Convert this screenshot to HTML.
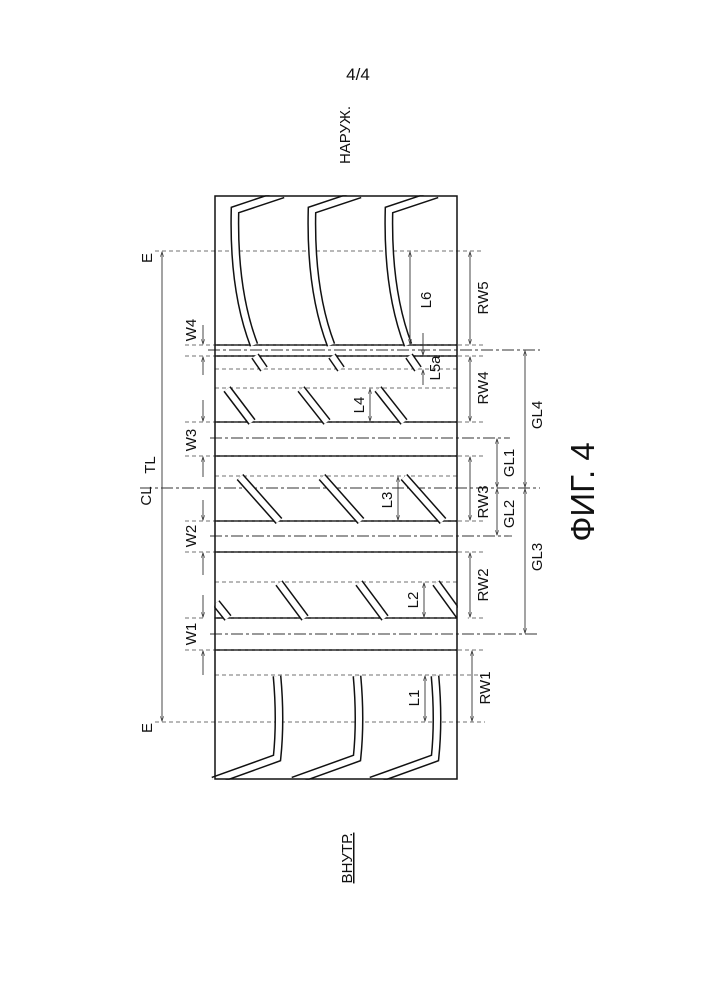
<!DOCTYPE html>
<html><head><meta charset="utf-8"><style>
html,body{margin:0;padding:0;background:#fff}
svg{display:block}
text{font-family:"Liberation Sans",sans-serif;fill:#111}
</style></head><body>
<svg width="707" height="1000" viewBox="0 0 707 1000" xmlns="http://www.w3.org/2000/svg">
<defs>
<marker id="a" viewBox="0 0 10 10" refX="9" refY="5" markerWidth="6" markerHeight="6" orient="auto-start-reverse"><path d="M0,2 L10,5 L0,8" fill="none" stroke="#333" stroke-width="1"/></marker>
</defs>
<text x="358" y="80" font-size="17" text-anchor="middle">4/4</text>
<text transform="translate(350,135) rotate(-90)" font-size="15" text-anchor="middle">НАРУЖ.</text>
<text transform="translate(352,858) rotate(-90)" font-size="15" text-anchor="middle" text-decoration="underline">ВНУТР.</text>
<text transform="translate(594,492) rotate(-90)" font-size="33" text-anchor="middle">ФИГ. 4</text>

<!-- solid groove walls -->
<g stroke="#111" stroke-width="1.5">
<line x1="215" y1="345" x2="457" y2="345"/><line x1="215" y1="356" x2="457" y2="356"/>
<line x1="215" y1="422" x2="457" y2="422"/><line x1="215" y1="456" x2="457" y2="456"/>
<line x1="215" y1="521" x2="457" y2="521"/><line x1="215" y1="552" x2="457" y2="552"/>
<line x1="215" y1="618" x2="457" y2="618"/><line x1="215" y1="650" x2="457" y2="650"/>
</g>
<!-- dashed lines -->
<g stroke="#444" stroke-width="0.8" stroke-dasharray="4,3" fill="none">
<line x1="155" y1="251" x2="482" y2="251"/>
<line x1="155" y1="722" x2="485" y2="722"/>
<line x1="185" y1="345" x2="485" y2="345"/><line x1="185" y1="356" x2="485" y2="356"/>
<line x1="215" y1="369" x2="457" y2="369"/><line x1="215" y1="388" x2="457" y2="388"/>
<line x1="185" y1="422" x2="485" y2="422"/><line x1="185" y1="456" x2="485" y2="456"/>
<line x1="215" y1="476" x2="457" y2="476"/>
<line x1="185" y1="521" x2="485" y2="521"/><line x1="185" y1="552" x2="485" y2="552"/>
<line x1="215" y1="582" x2="457" y2="582"/>
<line x1="185" y1="618" x2="485" y2="618"/><line x1="185" y1="650" x2="485" y2="650"/>
<line x1="215" y1="675" x2="485" y2="675"/>
</g>
<g stroke="#333" stroke-width="0.9" stroke-dasharray="12,3,3,3" fill="none">
<line x1="208" y1="350" x2="540" y2="350"/>
<line x1="210" y1="438" x2="510" y2="438"/>
<line x1="140" y1="488" x2="540" y2="488"/>
<line x1="210" y1="536" x2="512" y2="536"/>
<line x1="210" y1="634" x2="540" y2="634"/>
</g>

<!-- grooves (double lines) -->
<g fill="none" stroke-linecap="butt">
<g stroke="#111" stroke-width="9">
<path d="M283,194 L235,210 Q233,290 254,345"/>
<path d="M360,194 L312,210 Q310,290 331,345"/>
<path d="M437,194 L389,210 Q387,290 408,345"/>
<path d="M255,356 L264,369"/><path d="M332,356 L341,369"/><path d="M409,356 L418,369"/>
<path d="M227,389 L252,422"/><path d="M301,389 L327,422"/><path d="M378,389 L404,422"/>
<path d="M240,477 L279,521"/><path d="M322,477 L361,521"/><path d="M404,477 L443,521"/>
<path d="M279,583 L305,618"/><path d="M359,583 L385,618"/><path d="M436,583 L460,616"/>
<path d="M216,603 L228,618"/>
<path d="M277,676 Q281,720 277,758 L213,781"/>
<path d="M357,676 Q361,720 357,758 L293,781"/>
<path d="M435,676 Q439,720 435,758 L371,781"/>
</g>
<g stroke="#fff" stroke-width="6">
<path d="M283,194 L235,210 Q233,290 254,345"/>
<path d="M360,194 L312,210 Q310,290 331,345"/>
<path d="M437,194 L389,210 Q387,290 408,345"/>
<path d="M255,356 L264,369"/><path d="M332,356 L341,369"/><path d="M409,356 L418,369"/>
<path d="M227,389 L252,422"/><path d="M301,389 L327,422"/><path d="M378,389 L404,422"/>
<path d="M240,477 L279,521"/><path d="M322,477 L361,521"/><path d="M404,477 L443,521"/>
<path d="M279,583 L305,618"/><path d="M359,583 L385,618"/><path d="M436,583 L460,616"/>
<path d="M216,603 L228,618"/>
<path d="M277,676 Q281,720 277,758 L213,781"/>
<path d="M357,676 Q361,720 357,758 L293,781"/>
<path d="M435,676 Q439,720 435,758 L371,781"/>
</g>
</g>
<!-- mask overflow outside box -->
<rect x="200" y="180" width="250" height="15.2" fill="#fff"/>
<rect x="200" y="779.8" width="250" height="12" fill="#fff"/>
<rect x="457.8" y="560" width="10" height="70" fill="#fff"/>
<rect x="205" y="595" width="9.2" height="30" fill="#fff"/>
<rect x="215" y="196" width="242" height="583" fill="none" stroke="#111" stroke-width="1.5"/>

<!-- dimension arrows -->
<g stroke="#333" stroke-width="0.9" fill="none" marker-start="url(#a)" marker-end="url(#a)">
<line x1="162" y1="252" x2="162" y2="721"/>
<line x1="410" y1="252" x2="410" y2="344"/>
<line x1="470" y1="252" x2="470" y2="344"/>
<line x1="470" y1="357" x2="470" y2="421"/>
<line x1="370" y1="389" x2="370" y2="421"/>
<line x1="398" y1="477" x2="398" y2="520"/>
<line x1="470" y1="457" x2="470" y2="520"/>
<line x1="424" y1="583" x2="424" y2="617"/>
<line x1="470" y1="553" x2="470" y2="617"/>
<line x1="425" y1="676" x2="425" y2="721"/>
<line x1="472" y1="651" x2="472" y2="721"/>
<line x1="497" y1="439" x2="497" y2="487"/>
<line x1="497" y1="489" x2="497" y2="535"/>
<line x1="525" y1="351" x2="525" y2="487"/>
<line x1="525" y1="489" x2="525" y2="633"/>
</g>
<g stroke="#333" stroke-width="0.9" fill="none">
<line x1="203" y1="325" x2="203" y2="344" marker-end="url(#a)"/>
<line x1="203" y1="375" x2="203" y2="357" marker-end="url(#a)"/>
<line x1="203" y1="400" x2="203" y2="421" marker-end="url(#a)"/>
<line x1="203" y1="477" x2="203" y2="457" marker-end="url(#a)"/>
<line x1="203" y1="500" x2="203" y2="520" marker-end="url(#a)"/>
<line x1="203" y1="575" x2="203" y2="553" marker-end="url(#a)"/>
<line x1="203" y1="595" x2="203" y2="617" marker-end="url(#a)"/>
<line x1="203" y1="675" x2="203" y2="651" marker-end="url(#a)"/>
<line x1="423" y1="333" x2="423" y2="355" marker-end="url(#a)"/>
<line x1="423" y1="385" x2="423" y2="370" marker-end="url(#a)"/>
</g>

<!-- labels -->
<g font-size="15" text-anchor="middle">
<text transform="translate(152,258) rotate(-90)">E</text>
<text transform="translate(152,728) rotate(-90)">E</text>
<text transform="translate(155,465) rotate(-90)">TL</text>
<text transform="translate(151,496) rotate(-90)">CL</text>
<text transform="translate(196,330) rotate(-90)">W4</text>
<text transform="translate(196,440) rotate(-90)">W3</text>
<text transform="translate(196,536) rotate(-90)">W2</text>
<text transform="translate(196,634) rotate(-90)">W1</text>
<text transform="translate(431,300) rotate(-90)">L6</text>
<text transform="translate(440,368) rotate(-90)">L5a</text>
<text transform="translate(364,405) rotate(-90)">L4</text>
<text transform="translate(392,500) rotate(-90)">L3</text>
<text transform="translate(418,600) rotate(-90)">L2</text>
<text transform="translate(419,698) rotate(-90)">L1</text>
<text transform="translate(488,298) rotate(-90)">RW5</text>
<text transform="translate(488,388) rotate(-90)">RW4</text>
<text transform="translate(488,502) rotate(-90)">RW3</text>
<text transform="translate(488,585) rotate(-90)">RW2</text>
<text transform="translate(490,688) rotate(-90)">RW1</text>
<text transform="translate(542,415) rotate(-90)">GL4</text>
<text transform="translate(514,463) rotate(-90)">GL1</text>
<text transform="translate(514,514) rotate(-90)">GL2</text>
<text transform="translate(542,557) rotate(-90)">GL3</text>
</g>
</svg>
</body></html>
